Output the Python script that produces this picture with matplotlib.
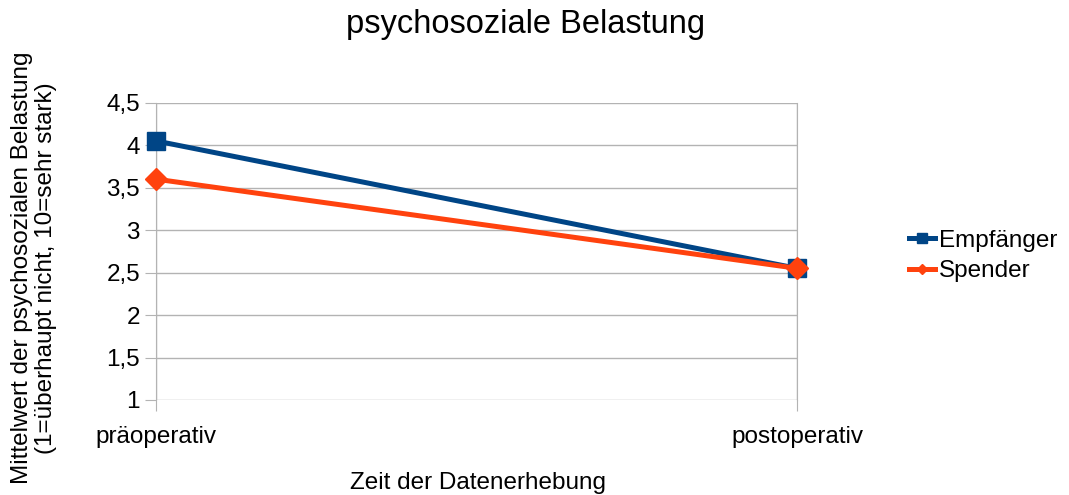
import matplotlib
matplotlib.use("Agg")
import matplotlib.pyplot as plt

plt.rcParams['font.family'] = ['Liberation Sans', 'DejaVu Sans']

categories = ["präoperativ", "postoperativ"]
empfaenger = [4.05, 2.55]
spender = [3.6, 2.55]
yticks = [1, 1.5, 2, 2.5, 3, 3.5, 4, 4.5]
yticklabels = ["1", "1,5", "2", "2,5", "3", "3,5", "4", "4,5"]

FS = 17.5
W, H = 1069, 495
fig = plt.figure(figsize=(W / 100, H / 100), dpi=100)
left, right, top, bottom = 156, 797, 102.7, 400
ax = fig.add_axes([left / W, 1 - bottom / H, (right - left) / W, (bottom - top) / H])

x = list(range(len(categories)))
ax.plot(x, empfaenger, color="#004586", lw=3.6, marker="s", markersize=13.5,
        label="Empfänger", solid_joinstyle="miter", zorder=3, clip_on=False)
ax.plot(x, spender, color="#ff420e", lw=3.6, marker="D", markersize=11,
        label="Spender", zorder=4, clip_on=False)

ax.set_xlim(0, 1)
ax.set_ylim(1, 4.5)
ax.set_yticks(yticks)
ax.set_yticklabels(yticklabels, fontsize=FS)
ax.set_xticks(x)
ax.set_xticklabels(categories, fontsize=FS)
ax.grid(True, color="#b3b3b3", lw=1)
ax.set_axisbelow(True)
for s in ["top", "bottom"]:
    ax.spines[s].set_visible(False)
for s in ["left", "right"]:
    ax.spines[s].set_color("#b3b3b3")
ax.tick_params(axis="y", length=8, color="#b3b3b3", pad=3.5)
ax.tick_params(axis="x", length=8, color="#b3b3b3", pad=11)

fig.text(526 / W, 1 - 25 / H, "psychosoziale Belastung", fontsize=23.5,
         ha="center", va="center")
fig.text(478 / W, 1 - 483 / H, "Zeit der Datenerhebung", fontsize=FS,
         ha="center", va="center")
fig.text(34 / W, 1 - 268 / H,
         "Mittelwert der psychosozialen Belastung\n(1=überhaupt nicht, 10=sehr stark)",
         fontsize=FS, ha="center", va="center", rotation=90, multialignment="center",
         linespacing=1.15)

leg = ax.legend(loc="center left", bbox_to_anchor=(1.14, 0.485), frameon=False,
                fontsize=FS, handlelength=1.1, handletextpad=0.15, markerscale=0.5,
                labelspacing=0.35)

fig.savefig("out.png", dpi=100)
